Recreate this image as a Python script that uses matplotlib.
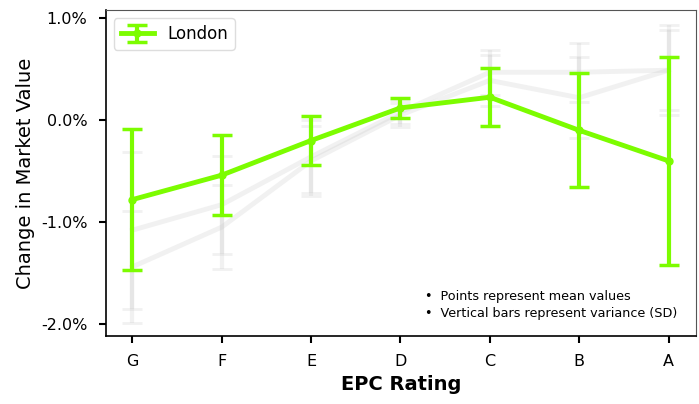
import matplotlib
matplotlib.use("Agg")
import matplotlib.pyplot as plt
import numpy as np

plt.rcParams.update({
    "font.family": "DejaVu Sans",
    "font.size": 11,
})

ratings = ["G", "F", "E", "D", "C", "B", "A"]

# London (highlighted)
london_mean = [-0.78, -0.54, -0.20, 0.12, 0.225, -0.10, -0.40]
london_sd = [0.69, 0.395, 0.24, 0.10, 0.285, 0.56, 1.02]

# other regions (greyed out)
other1_mean = [-1.08, -0.83, -0.36, 0.08, 0.47, 0.47, 0.49]
other1_sd = [0.77, 0.48, 0.36, 0.12, 0.22, 0.29, 0.44]
other2_mean = [-1.44, -1.05, -0.40, 0.05, 0.39, 0.22, 0.49]
other2_sd = [0.55, 0.41, 0.34, 0.12, 0.25, 0.40, 0.39]

x = np.arange(len(ratings))

fig, ax = plt.subplots(figsize=(6.99, 4.04), dpi=100)
fig.subplots_adjust(left=0.151, right=0.996, top=0.975, bottom=0.168)

for m, s in [(other1_mean, other1_sd), (other2_mean, other2_sd)]:
    ax.errorbar(x, m, yerr=s, color="#c8c8c8", alpha=0.25, lw=3.5,
                capsize=7, capthick=2, elinewidth=3, zorder=1)

ax.errorbar(x, london_mean, yerr=london_sd, color="#7CFC00", lw=3.5,
            marker="o", markersize=5, capsize=7, capthick=2.5,
            elinewidth=3, label="London", zorder=3)

ax.set_xlim(-0.3, 6.31)
ax.set_ylim(-2.12, 1.08)
ax.set_xticks(x)
ax.set_xticklabels(ratings)
ax.set_yticks([-2, -1, 0, 1])
ax.set_yticklabels(["-2.0%", "-1.0%", "0.0%", "1.0%"])
ax.tick_params(direction="out", length=5, width=1.5, pad=8, labelsize=11.5)
for side in ["top", "right"]:
    ax.spines[side].set_color("#555555")
for side in ["left", "bottom"]:
    ax.spines[side].set_linewidth(1.2)

ax.set_xlabel("EPC Rating", fontsize=14, fontweight="bold")
ax.set_ylabel("Change in Market Value", fontsize=14)

ax.legend(loc="upper left", fontsize=12, handlelength=2, borderpad=0.4,
          framealpha=1, edgecolor="#dddddd")

ax.text(0.54, 0.095, "\u2022  Points represent mean values\n\u2022  Vertical bars represent variance (SD)",
        transform=ax.transAxes, fontsize=9.2, va="center", linespacing=1.45)

fig.savefig("out.png", dpi=100)
